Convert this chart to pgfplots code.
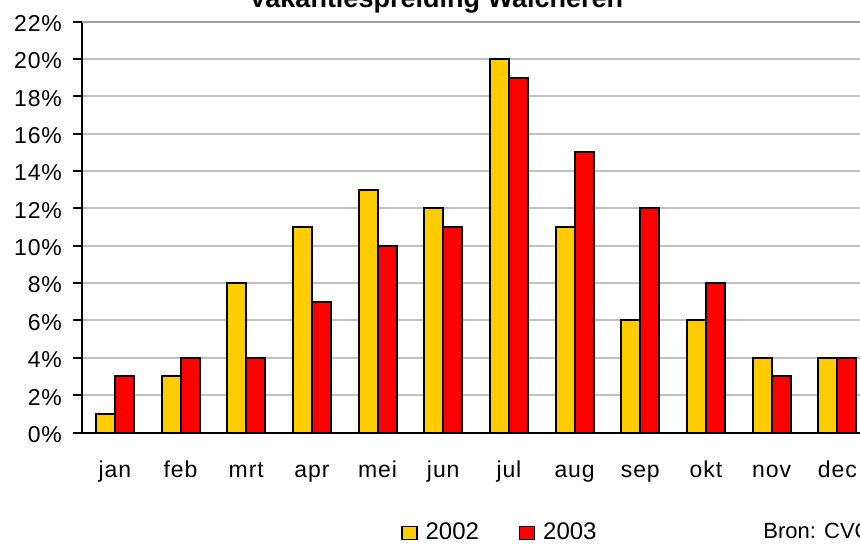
\documentclass[border=0pt]{standalone}
\usepackage{pgfplots}
\pgfplotsset{compat=1.18}
\usepackage{fontspec}
\setmainfont{Liberation Sans}
\newfontfamily\tickfont[LetterSpace=4]{Liberation Sans}
\definecolor{ybar}{HTML}{FFCC00}
\definecolor{rbar}{HTML}{FF0000}
\definecolor{gridc}{HTML}{C0C0C0}
\begin{document}
\begin{tikzpicture}[x=1pt,y=1pt]
\clip (0,0) rectangle (430,271.5);
\path[use as bounding box] (0,0) rectangle (430,271.5);
\begin{axis}[
  at={(41pt,55.25pt)}, anchor=south west,
  width=389pt, height=205.5pt, scale only axis,
  xmin=-0.5, xmax=11.345, ymin=0, ymax=22,
  axis lines*=left,
  axis line style={line width=1pt},
  ytick={0,2,...,22},
  yticklabel={\pgfmathprintnumber{\tick}\%},
  xtick={0,...,11},
  xticklabels={jan,feb,mrt,apr,mei,jun,jul,aug,sep,okt,nov,dec},
  x tick style={draw=none},
  y tick style={line width=1pt, black},
  major tick length=4.5pt,
  tick align=outside,
  ymajorgrids, grid style={gridc, line width=1pt},
  tick label style={font=\tickfont\fontsize{11.5}{13}\selectfont},
  /pgf/number format/assume math mode=true,
  xticklabel style={anchor=base, yshift=-17.75pt},
  yticklabel style={xshift=-2pt, yshift=-1pt},
  ybar, bar width=9.5pt,
  legend style={at={(0.41,-0.262)}, anchor=south west, draw=none, fill=none,
    inner sep=0pt, legend columns=2, font=\fontsize{12}{13}\selectfont,
    legend cell align=left,
    nodes={inner sep=0pt, text depth=0pt},
    /tikz/every odd column/.append style={column sep=4pt},
    /tikz/every even column/.append style={column sep=20pt}},
  legend image code/.code={\draw[#1, draw=black, line width=0.6pt] (0pt,-4pt) rectangle (7.5pt,2.5pt);},
]
\addplot[fill=ybar, draw=black, line width=1pt, bar shift=-4.75pt] coordinates {
(0,1) (1,3) (2,8) (3,11) (4,13) (5,12) (6,20) (7,11) (8,6) (9,6) (10,4) (11,4)};
\addplot[fill=rbar, draw=black, line width=1pt, bar shift=4.75pt] coordinates {
(0,3) (1,4) (2,4) (3,7) (4,10) (5,11) (6,19) (7,15) (8,12) (9,8) (10,3) (11,4)};
\draw[gray!75, line width=1pt] (axis cs:-0.5,22) -- (axis cs:11.345,22);
\legend{2002,2003}
\end{axis}
\node[anchor=base, inner sep=0pt, font=\bfseries\fontsize{13.5}{15}\selectfont] at (218,268) {Vakantiespreiding Walcheren};
\node[anchor=base west, inner sep=0pt, font=\fontsize{11}{12}\selectfont] at (381.5,2.5) {Bron: CVO};
\end{tikzpicture}
\end{document}
